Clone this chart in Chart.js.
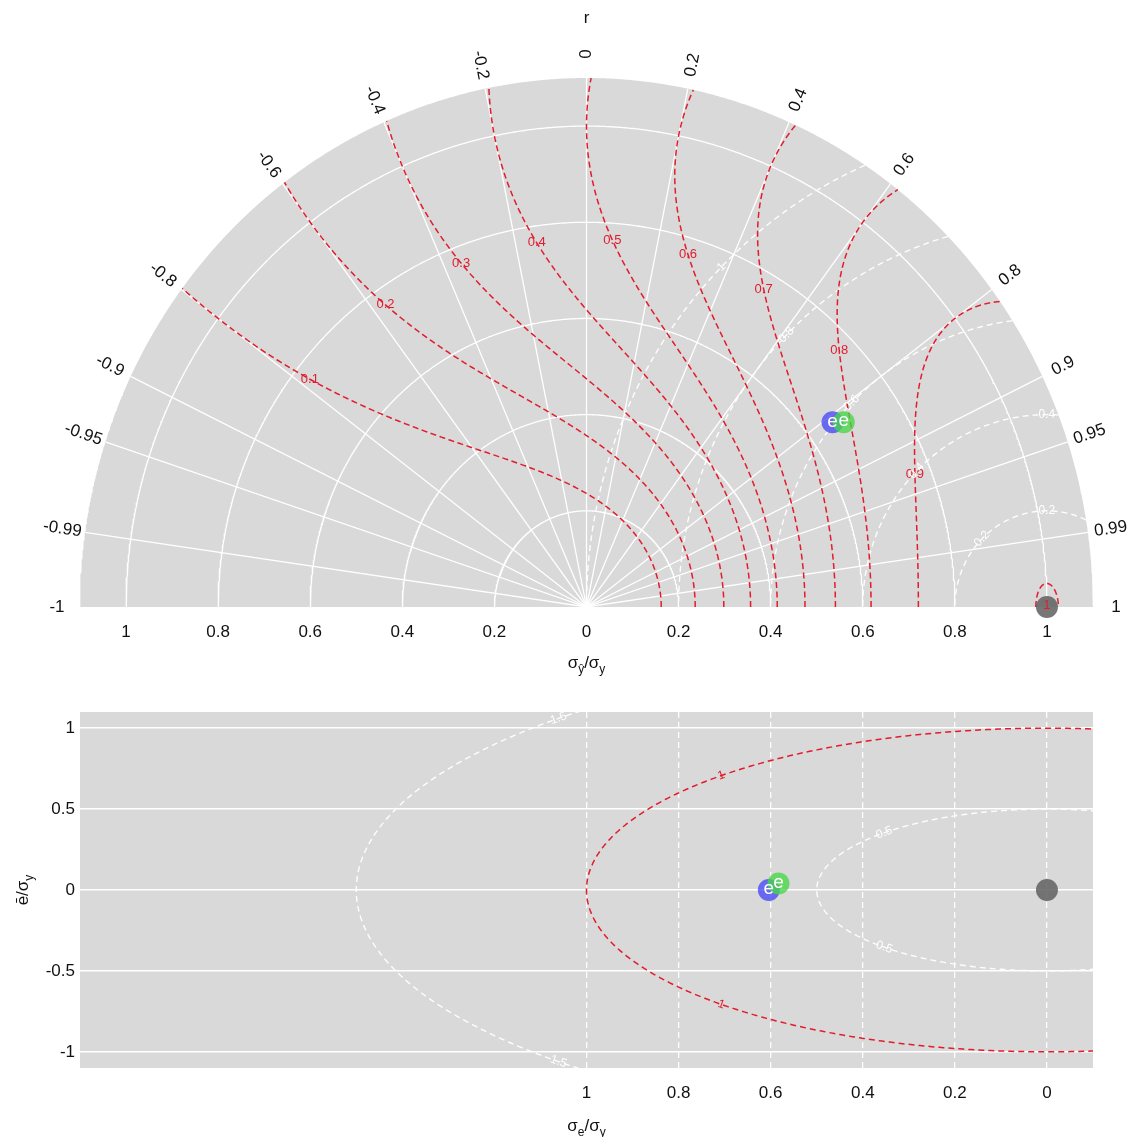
<!DOCTYPE html>
<html><head><meta charset="utf-8">
<script src="https://cdn.jsdelivr.net/npm/chart.js@4.4.0/dist/chart.umd.min.js"></script>
<style>
html,body{margin:0;padding:0;background:#fff;}
#wrap{position:relative;width:1142px;height:1137px;overflow:hidden;}
#c1{position:absolute;left:0;top:0;}
#c2{position:absolute;left:0;top:690px;}
</style></head><body>
<div id="wrap">
<canvas id="c1" width="1142" height="690"></canvas>
<canvas id="c2" width="1142" height="447"></canvas>
</div>
<script>
// ---------------- data ----------------
const modelNames = ['e', 'e'];
const modelColors = ['rgba(70,70,245,0.78)', 'rgba(70,215,70,0.78)'];
const sdRatio = [0.658, 0.678];        // sigma_yhat / sigma_y
const corr = [0.812, 0.824];           // r
const errSdRatio = [0.604, 0.583];     // sigma_e / sigma_y
const biasRatio = [0.0, 0.04];         // mean error / sigma_y
const refSd = 1, refCorr = 1, refBias = 0, refErrSd = 0;

const corTicks = [-1, -0.99, -0.95, -0.9, -0.8, -0.6, -0.4, -0.2, 0, 0.2, 0.4, 0.6, 0.8, 0.9, 0.95, 0.99, 1];
const sdTicks = [0.2, 0.4, 0.6, 0.8, 1];
const sdMax = 1.1;
const xTickVals = [-1, -0.8, -0.6, -0.4, -0.2, 0, 0.2, 0.4, 0.6, 0.8, 1];
const skillLevels = [0.1, 0.2, 0.3, 0.4, 0.5, 0.6, 0.7, 0.8, 0.9, 1];
const crmsdLevels = [0.2, 0.4, 0.6, 0.8, 1];
const errXTicks = [0, 0.2, 0.4, 0.6, 0.8, 1];
const biasTicks = [-1, -0.5, 0, 0.5, 1];
const rmseLevels = [0.5, 1, 1.5];
const rmseRedLevel = 1;
const errXRange = [-0.1, 2.1];
const biasRange = [-1.1, 1.1];

// ---------------- style ----------------
const FONT = "'Liberation Sans', Arial, Helvetica, sans-serif";
const RED = 'rgb(226,28,44)';
const BG = '#d9d9d9';
const TXT = '#111111';
const skillLabelSd = 0.765;
const fmt = v => String(Math.round(v * 100) / 100);
const P = (x, y) => ({x, y});

// skill score contour S = 2(1+r)/(s+1/s)^2
function skillCurve(S0) {
  const S = Math.min(S0, 0.9994);
  const pts = [];
  const rt = 2 * S - 1;
  const tt = Math.acos(Math.max(-1, Math.min(1, rt)));
  const N = 700;
  const sAt = (th, big) => {
    const r = Math.cos(th);
    let k = Math.sqrt(2 * (1 + r) / S);
    if (k < 2) k = 2;
    const d = Math.sqrt(k * k - 4);
    return big ? (k + d) / 2 : (k - d) / 2;
  };
  for (let i = 0; i <= N; i++) {
    const th = tt * Math.sin(Math.PI / 2 * i / N);
    const s = sAt(th, false);
    pts.push(P(s * Math.cos(th), s * Math.sin(th)));
  }
  for (let i = N; i >= 0; i--) {
    const th = tt * Math.sin(Math.PI / 2 * i / N);
    const s = sAt(th, true);
    if (s > sdMax) {
      const rb = S * Math.pow(sdMax + 1 / sdMax, 2) / 2 - 1;
      const tb = Math.acos(Math.max(-1, Math.min(1, rb)));
      pts.push(P(sdMax * Math.cos(tb), sdMax * Math.sin(tb)));
      break;
    }
    pts.push(P(s * Math.cos(th), s * Math.sin(th)));
  }
  return pts;
}

// centred RMS difference circles around reference (1,0)
function crmsdCurve(rho) {
  const pts = [];
  const N = 720;
  let started = false;
  for (let i = 0; i <= N; i++) {
    const f = Math.PI * i / N;
    const x = refSd + rho * Math.cos(f), y = rho * Math.sin(f);
    if (x * x + y * y <= sdMax * sdMax + 1e-9) {
      if (!started && i > 0) {
        const xb = (sdMax * sdMax + refSd * refSd - rho * rho) / (2 * refSd);
        pts.push(P(xb, Math.sqrt(Math.max(0, sdMax * sdMax - xb * xb))));
      }
      started = true;
      pts.push(P(x, y));
    }
  }
  return pts;
}

// ---------------- top chart ----------------
const topSets = [];
const bgPts = [];
for (let i = 0; i <= 720; i++) { const t = Math.PI * (1 - i / 720); bgPts.push(P(sdMax * Math.cos(t), sdMax * Math.sin(t))); }
topSets.push({data: bgPts, fill: 'origin', backgroundColor: BG, borderWidth: 0, pointRadius: 0, order: 100});
sdTicks.forEach(s => {
  const a = [];
  for (let i = 0; i <= 720; i++) { const t = Math.PI * i / 720; a.push(P(s * Math.cos(t), s * Math.sin(t))); }
  topSets.push({data: a, borderColor: '#ffffff', borderWidth: 1.3, pointRadius: 0, fill: false, order: 90});
});
corTicks.filter(r => Math.abs(r) < 1).forEach(r => {
  const q = Math.sqrt(1 - r * r);
  topSets.push({data: [P(0, 0), P(sdMax * r, sdMax * q)], borderColor: '#ffffff', borderWidth: 1.3, pointRadius: 0, fill: false, order: 90});
});
const crmsdCurves = crmsdLevels.map(crmsdCurve);
crmsdCurves.forEach(c => topSets.push({data: c, borderColor: 'rgba(255,255,255,0.95)', borderWidth: 1.4, borderDash: [6, 4], pointRadius: 0, fill: false, order: 80}));
const skillCurves = skillLevels.map(skillCurve);
skillCurves.forEach(c => topSets.push({data: c, borderColor: RED, borderWidth: 1.5, borderDash: [6, 3.5], pointRadius: 0, fill: false, order: 70}));
topSets.push({data: [P(refSd * refCorr, refSd * Math.sqrt(1 - refCorr * refCorr))], showLine: false, pointRadius: 11, pointBackgroundColor: 'rgba(95,95,95,0.85)', pointBorderWidth: 0, clip: false, order: 10, _lbl: ''});
modelNames.forEach((n, i) => {
  topSets.push({data: [P(sdRatio[i] * corr[i], sdRatio[i] * Math.sqrt(1 - corr[i] * corr[i]))], showLine: false, pointRadius: 11,
    pointBackgroundColor: modelColors[i], pointBorderWidth: 0, clip: false, order: 5 - i, _lbl: n});
});

function drawParts(ctx, cx, cy, parts, size) {
  const subSize = Math.round(size * 0.72);
  let w = 0;
  parts.forEach(p => { ctx.font = (p.sub ? subSize : size) + 'px ' + FONT; p.w = ctx.measureText(p.t).width; w += p.w; });
  let x = cx - w / 2;
  ctx.textAlign = 'left'; ctx.textBaseline = 'alphabetic';
  parts.forEach(p => {
    ctx.font = (p.sub ? subSize : size) + 'px ' + FONT;
    ctx.fillText(p.t, x, cy + size * 0.35 + (p.sub ? size * 0.3 : 0));
    x += p.w;
  });
}

function pointLabels(chart, ctx) {
  chart.data.datasets.forEach((ds, i) => {
    if (!ds._lbl) return;
    const el = chart.getDatasetMeta(i).data[0];
    ctx.fillStyle = '#ffffff';
    ctx.font = '19px ' + FONT;
    ctx.textAlign = 'center'; ctx.textBaseline = 'middle';
    ctx.fillText(ds._lbl, el.x, el.y - 1);
  });
}

const topLabels = {
  id: 'topLabels',
  afterDatasetsDraw(chart) {
    const ctx = chart.ctx, xs = chart.scales.x, ys = chart.scales.y;
    const X = v => xs.getPixelForValue(v), Y = v => ys.getPixelForValue(v);
    ctx.save();
    // skill score labels
    ctx.fillStyle = RED; ctx.font = '13px ' + FONT; ctx.textAlign = 'center'; ctx.textBaseline = 'middle';
    skillLevels.forEach((S, i) => {
      const s = skillLabelSd;
      const r = S * Math.pow(s + 1 / s, 2) / 2 - 1;
      let px, py;
      if (r >= -1 && r <= 1) { px = X(s * r); py = Y(s * Math.sqrt(1 - r * r)); }
      else { px = X(refSd * refCorr); py = Y(refSd * Math.sqrt(1 - refCorr * refCorr)) - 2; }
      ctx.fillText(fmt(S), px, py);
    });
    // crmsd labels
    ctx.fillStyle = '#ffffff'; ctx.font = '12px ' + FONT;
    crmsdLevels.forEach(rho => {
      [Math.PI * 3 / 4, Math.PI / 2].forEach(f => {
        const x = refSd + rho * Math.cos(f), y = rho * Math.sin(f);
        if (x * x + y * y > sdMax * sdMax) return;
        const e = 0.01;
        const dx = X(refSd + rho * Math.cos(f + e)) - X(refSd + rho * Math.cos(f - e));
        const dy = Y(rho * Math.sin(f + e)) - Y(rho * Math.sin(f - e));
        let a = Math.atan2(dy, dx);
        if (a > Math.PI / 2) a -= Math.PI; if (a < -Math.PI / 2) a += Math.PI;
        ctx.save(); ctx.translate(X(x), Y(y)); ctx.rotate(a); ctx.fillText(fmt(rho), 0, 0); ctx.restore();
      });
    });
    // correlation labels
    ctx.fillStyle = TXT; ctx.font = '17px ' + FONT;
    const lr = 1.15;
    corTicks.forEach(r => {
      const th = Math.acos(r);
      const px = X(lr * Math.cos(th)), py = Y(lr * Math.sin(th));
      const dx = X(Math.cos(th)) - X(0), dy = Y(Math.sin(th)) - Y(0);
      let a = Math.atan2(dy, dx);
      if (a < -Math.PI / 2 - 1e-9) a += Math.PI;
      ctx.save(); ctx.translate(px, py); ctx.rotate(a); ctx.textAlign = 'center'; ctx.textBaseline = 'middle'; ctx.fillText(String(r), 0, 0); ctx.restore();
    });
    ctx.textAlign = 'center'; ctx.textBaseline = 'middle';
    ctx.fillText('r', X(0), Y(1.225));
    // x title
    drawParts(ctx, X(0), chart.chartArea.bottom + 55, [{t: 'σ'}, {t: 'ŷ', sub: true}, {t: '/'}, {t: 'σ'}, {t: 'y', sub: true}], 17);
    pointLabels(chart, ctx);
    ctx.restore();
  }
};

new Chart(document.getElementById('c1'), {
  type: 'line',
  data: {datasets: topSets},
  options: {
    responsive: false, animation: false, devicePixelRatio: 1, events: [],
    layout: {padding: {left: 80, right: 49, top: 78, bottom: 0}},
    plugins: {legend: {display: false}, tooltip: {enabled: false}},
    elements: {line: {tension: 0}},
    scales: {
      x: {type: 'linear', min: -sdMax, max: sdMax,
        afterBuildTicks: ax => { ax.ticks = xTickVals.map(v => ({value: v})); },
        afterFit: ax => { ax.height = 83; },
        grid: {display: false, drawTicks: false}, border: {display: false},
        ticks: {autoSkip: false, maxRotation: 0, padding: 15, color: TXT, font: {family: FONT, size: 17}, callback: v => fmt(Math.abs(v))}},
      y: {type: 'linear', min: 0, max: sdMax, display: false}
    }
  },
  plugins: [topLabels]
});

// ---------------- bottom chart ----------------
const botSets = [];
rmseLevels.forEach(rho => {
  const a = [];
  for (let i = 0; i <= 720; i++) { const f = -Math.PI + 2 * Math.PI * i / 720; a.push(P(rho * Math.cos(f), rho * Math.sin(f))); }
  botSets.push({data: a, borderColor: rho === rmseRedLevel ? RED : 'rgba(255,255,255,0.95)', borderWidth: rho === rmseRedLevel ? 1.5 : 1.4, borderDash: [6, 4], pointRadius: 0, fill: false, order: 50});
});
botSets.push({data: [P(refErrSd, refBias)], showLine: false, pointRadius: 11, pointBackgroundColor: 'rgba(95,95,95,0.85)', pointBorderWidth: 0, clip: false, order: 10, _lbl: ''});
modelNames.forEach((n, i) => {
  botSets.push({data: [P(errSdRatio[i], biasRatio[i])], showLine: false, pointRadius: 11,
    pointBackgroundColor: modelColors[i], pointBorderWidth: 0, clip: false, order: 5 - i, _lbl: n});
});

const botPlugin = {
  id: 'botPlugin',
  beforeDraw(chart) {
    const {ctx, chartArea: a} = chart;
    ctx.save(); ctx.fillStyle = BG; ctx.fillRect(a.left, a.top, a.right - a.left, a.bottom - a.top); ctx.restore();
  },
  afterDatasetsDraw(chart) {
    const ctx = chart.ctx, xs = chart.scales.x, ys = chart.scales.y;
    const X = v => xs.getPixelForValue(v), Y = v => ys.getPixelForValue(v);
    ctx.save();
    ctx.font = '12px ' + FONT; ctx.textAlign = 'center'; ctx.textBaseline = 'middle';
    rmseLevels.forEach(rho => {
      ctx.fillStyle = rho === rmseRedLevel ? RED : '#ffffff';
      [Math.PI / 4, -Math.PI / 4].forEach(f => {
        const e = 0.01;
        const dx = X(rho * Math.cos(f + e)) - X(rho * Math.cos(f - e));
        const dy = Y(rho * Math.sin(f + e)) - Y(rho * Math.sin(f - e));
        let a = Math.atan2(dy, dx);
        if (a > Math.PI / 2) a -= Math.PI; if (a < -Math.PI / 2) a += Math.PI;
        ctx.save(); ctx.translate(X(rho * Math.cos(f)), Y(rho * Math.sin(f))); ctx.rotate(a); ctx.fillText(fmt(rho), 0, 0); ctx.restore();
      });
    });
    ctx.fillStyle = TXT;
    drawParts(ctx, X(1), chart.chartArea.bottom + 57, [{t: 'σ'}, {t: 'e', sub: true}, {t: '/'}, {t: 'σ'}, {t: 'y', sub: true}], 17);
    ctx.save(); ctx.translate(22, Y(0)); ctx.rotate(-Math.PI / 2);
    drawParts(ctx, 0, 0, [{t: 'ē'}, {t: '/'}, {t: 'σ'}, {t: 'y', sub: true}], 17);
    ctx.restore();
    pointLabels(chart, ctx);
    ctx.restore();
  }
};

new Chart(document.getElementById('c2'), {
  type: 'line',
  data: {datasets: botSets},
  options: {
    responsive: false, animation: false, devicePixelRatio: 1, events: [],
    layout: {padding: {left: 0, right: 49, top: 22, bottom: 0}},
    plugins: {legend: {display: false}, tooltip: {enabled: false}},
    elements: {line: {tension: 0}},
    scales: {
      x: {type: 'linear', reverse: true, min: errXRange[0], max: errXRange[1],
        afterBuildTicks: ax => { ax.ticks = errXTicks.map(v => ({value: v})); },
        afterFit: ax => { ax.height = 69; },
        grid: {color: 'rgba(255,255,255,0.95)', lineWidth: 1.3, drawTicks: false},
        border: {display: false, dash: [6, 4]},
        ticks: {autoSkip: false, maxRotation: 0, padding: 15, color: TXT, font: {family: FONT, size: 17}, callback: v => fmt(v)}},
      y: {type: 'linear', min: biasRange[0], max: biasRange[1],
        afterBuildTicks: ax => { ax.ticks = biasTicks.map(v => ({value: v})); },
        afterFit: ax => { ax.width = 80; },
        grid: {color: '#ffffff', lineWidth: 1.5, drawTicks: false},
        border: {display: false},
        ticks: {autoSkip: false, padding: 5, color: TXT, font: {family: FONT, size: 17}, callback: v => fmt(v)}}
    }
  },
  plugins: [botPlugin]
});
</script>
</body></html>
